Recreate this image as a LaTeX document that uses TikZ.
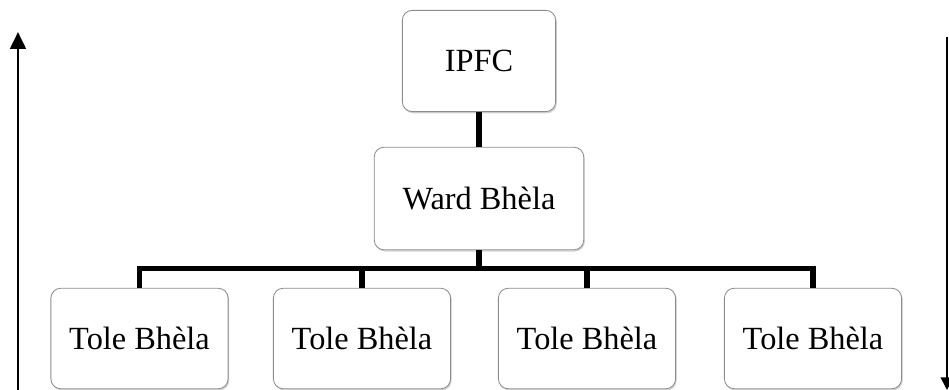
\documentclass[tikz,border=0pt]{standalone}
\usepackage{fontspec}
\setmainfont{Liberation Serif}
\usetikzlibrary{arrows.meta,shadows}
\colorlet{boxline}{black!45}
\tikzset{
    orgbox/.style={draw=boxline,fill=white,rounded corners=7pt,line width=0.6pt,
        drop shadow={opacity=0.35,shadow xshift=0.8pt,shadow yshift=-1.2pt},
        font=\fontsize{23}{27}\selectfont,align=center,inner sep=0pt},
    tolebox/.style={orgbox,minimum width=126pt,minimum height=71.5pt},
    link/.style={line width=3.6pt}
}

\begin{document}
\begin{tikzpicture}[x=0.025cm,y=0.025cm]
            \useasboundingbox (0,0) rectangle (949,389);
            % side arrows
            \coordinate (lbot) at (18,-2);
            \coordinate (ltop) at (18,357);
            \coordinate (rtop) at (947,352);
            \coordinate (rbot) at (947,-1);
            \draw [line width=2.1pt,-{Triangle[width=11pt,length=12pt]}] (lbot) -- (ltop);
            \draw [line width=1.2pt,-{Triangle[width=9pt,length=9pt]}] (rtop) -- (rbot);
            % boxes
            \node [orgbox,minimum width=109pt,minimum height=72pt] (ipfc) at (479,328) {IPFC};
            \node [orgbox,minimum width=149pt,minimum height=73pt] (ward) at (479,190.5) {Ward Bhèla};
            \node [tolebox] (tole1) at (139.5,50.5) {Tole Bhèla};
            \node [tolebox] (tole2) at (362,50.5) {Tole Bhèla};
            \node [tolebox] (tole3) at (587,50.5) {Tole Bhèla};
            \node [tolebox] (tole4) at (813,50.5) {Tole Bhèla};
            % connectors
            \draw [link] (ipfc.south) -- (ward.north);
            \draw [link] (tole1.north) -- ++(0,19) coordinate (barl) -| (tole4.north);
            \foreach \n in {2,3}
                \draw [link] (tole\n.north) -- (tole\n.north |- barl);
            \draw [link] (ward.south) -- (ward.south |- barl);
        \end{tikzpicture}
\end{document}
